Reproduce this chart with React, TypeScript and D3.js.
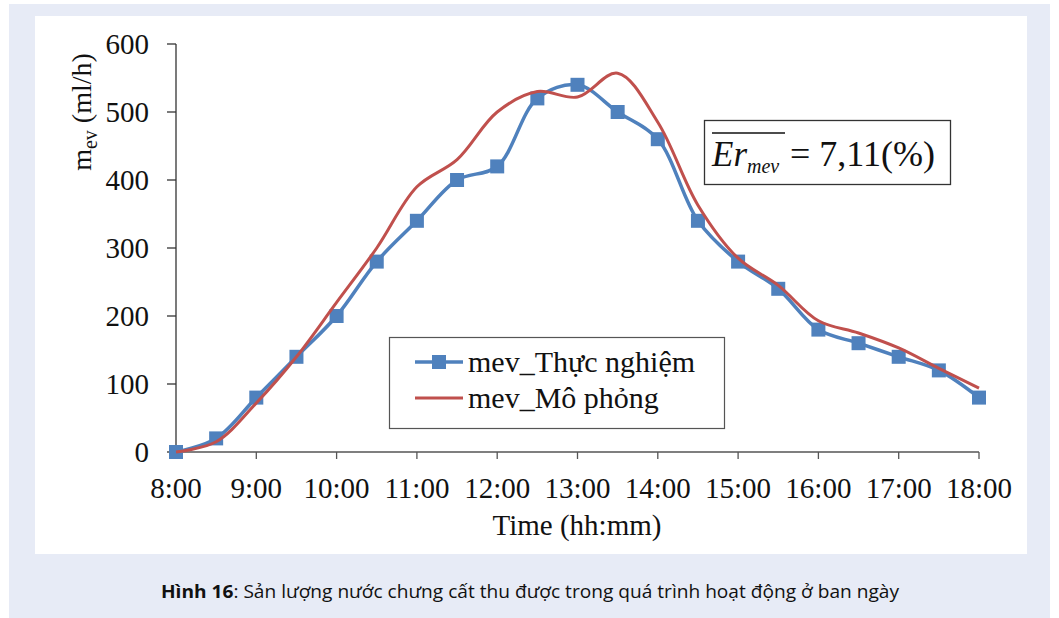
import React from "react";
import * as d3 from "d3";

const times = ["8:00","8:30","9:00","9:30","10:00","10:30","11:00","11:30","12:00","12:30","13:00","13:30","14:00","14:30","15:00","15:30","16:00","16:30","17:00","17:30","18:00"];
const experimental = [0, 20, 80, 140, 200, 280, 340, 400, 420, 520, 540, 500, 460, 340, 280, 240, 180, 160, 140, 120, 80];
const simulated = [0, 15, 72, 140, 220, 300, 390, 430, 500, 530, 522, 557, 485, 363, 285, 245, 193, 175, 153, 123, 94];
const xTickLabels = ["8:00","9:00","10:00","11:00","12:00","13:00","14:00","15:00","16:00","17:00","18:00"];
const yTicks = [0, 100, 200, 300, 400, 500, 600];
const seriesNames = ["mev_Thực nghiệm", "mev_Mô phỏng"];

const toMin = (t: string) => {
  const [h, m] = t.split(":").map(Number);
  return h * 60 + m;
};

const BLUE = "#4F81BD";
const RED = "#C0504D";
const SERIF = "'Liberation Serif', 'Times New Roman', serif";

export default function App() {
  const x = d3.scaleLinear().domain([480, 1080]).range([176, 979]);
  const y = d3.scaleLinear().domain([0, 600]).range([452, 44]);
  const line = d3
    .line<number>()
    .x((_, i) => x(toMin(times[i])))
    .y((d) => y(d))
    .curve(d3.curveCatmullRom.alpha(0.5));

  const sq = 14;

  return (
    <svg
      width={1059}
      height={618}
      style={{ position: "absolute", left: 0, top: 0 }}
      xmlns="http://www.w3.org/2000/svg"
    >
      <rect x={0} y={0} width={1059} height={618} fill="#ffffff" />
      <rect x={9} y={4} width={1041} height={614} fill="#E7EBF6" />
      <rect x={35} y={16} width={992} height={538} fill="#ffffff" />

      {/* axes */}
      <line x1={176} x2={176} y1={y(600)} y2={y(0)} stroke="#333" strokeWidth={1.3} />
      <line x1={176} x2={979} y1={y(0)} y2={y(0)} stroke="#555" strokeWidth={1.3} />
      {yTicks.map((t) => (
        <g key={t}>
          <line x1={167} x2={176} y1={y(t)} y2={y(t)} stroke="#333" strokeWidth={1.3} />
          <text
            x={149}
            y={y(t) + 10}
            textAnchor="end"
            fontFamily={SERIF}
            fontSize={29}
            fill="#111"
          >
            {t}
          </text>
        </g>
      ))}
      {xTickLabels.map((t) => (
        <g key={t}>
          <line x1={x(toMin(t))} x2={x(toMin(t))} y1={y(0)} y2={y(0) + 7} stroke="#555" strokeWidth={1.3} />
          <text
            x={x(toMin(t))}
            y={498}
            textAnchor="middle"
            fontFamily={SERIF}
            fontSize={29}
            fill="#111"
          >
            {t}
          </text>
        </g>
      ))}

      <text x={577} y={535} textAnchor="middle" fontFamily={SERIF} fontSize={29} fill="#111">
        Time (hh:mm)
      </text>
      <text
        transform="translate(91,112) rotate(-90)"
        textAnchor="middle"
        fontFamily={SERIF}
        fontSize={28}
        fill="#111"
      >
        m<tspan fontSize={20} dy={6}>ev</tspan>
        <tspan dy={-6}> (ml/h)</tspan>
      </text>

      {/* series */}
      <path d={line(experimental) || ""} fill="none" stroke={BLUE} strokeWidth={3.5} />
      {experimental.map((v, i) => (
        <rect
          key={i}
          x={x(toMin(times[i])) - sq / 2}
          y={y(v) - sq / 2}
          width={sq}
          height={sq}
          fill={BLUE}
        />
      ))}
      <path d={line(simulated) || ""} fill="none" stroke={RED} strokeWidth={3} />

      {/* legend */}
      <rect x={389.5} y={337.5} width={335} height={91} fill="#fff" stroke="#555" strokeWidth={1.2} />
      <line x1={415} x2={463} y1={362} y2={362} stroke={BLUE} strokeWidth={3.5} />
      <rect x={439 - sq / 2} y={362 - sq / 2} width={sq} height={sq} fill={BLUE} />
      <text x={468} y={372} fontFamily={SERIF} fontSize={30} fill="#111">
        {seriesNames[0]}
      </text>
      <line x1={415} x2={463} y1={398} y2={398} stroke={RED} strokeWidth={3} />
      <text x={468} y={408} fontFamily={SERIF} fontSize={30} fill="#111">
        {seriesNames[1]}
      </text>

      {/* annotation */}
      <rect x={704.5} y={120.5} width={246} height={64} fill="#fff" stroke="#333" strokeWidth={1.3} />
      <line x1={712} x2={785} y1={133} y2={133} stroke="#111" strokeWidth={1.3} />
      <text x={712} y={166} fontFamily={SERIF} fontSize={35} fontStyle="italic" fill="#111">
        Er
        <tspan fontSize={20} dy={7}>mev</tspan>
      </text>
      <text x={790} y={166} fontFamily={SERIF} fontSize={36} fill="#111">
        = 7,11(%)
      </text>

      {/* caption */}
      <text
        x={161}
        y={598}
        fontFamily="'Open Sans', 'Noto Sans', sans-serif"
        fontSize={18}
        fill="#111"
        textLength={738}
        lengthAdjust="spacingAndGlyphs"
      >
        <tspan fontWeight="bold">Hình 16</tspan>: Sản lượng nước chưng cất thu được trong quá trình hoạt động ở ban ngày
      </text>
    </svg>
  );
}
